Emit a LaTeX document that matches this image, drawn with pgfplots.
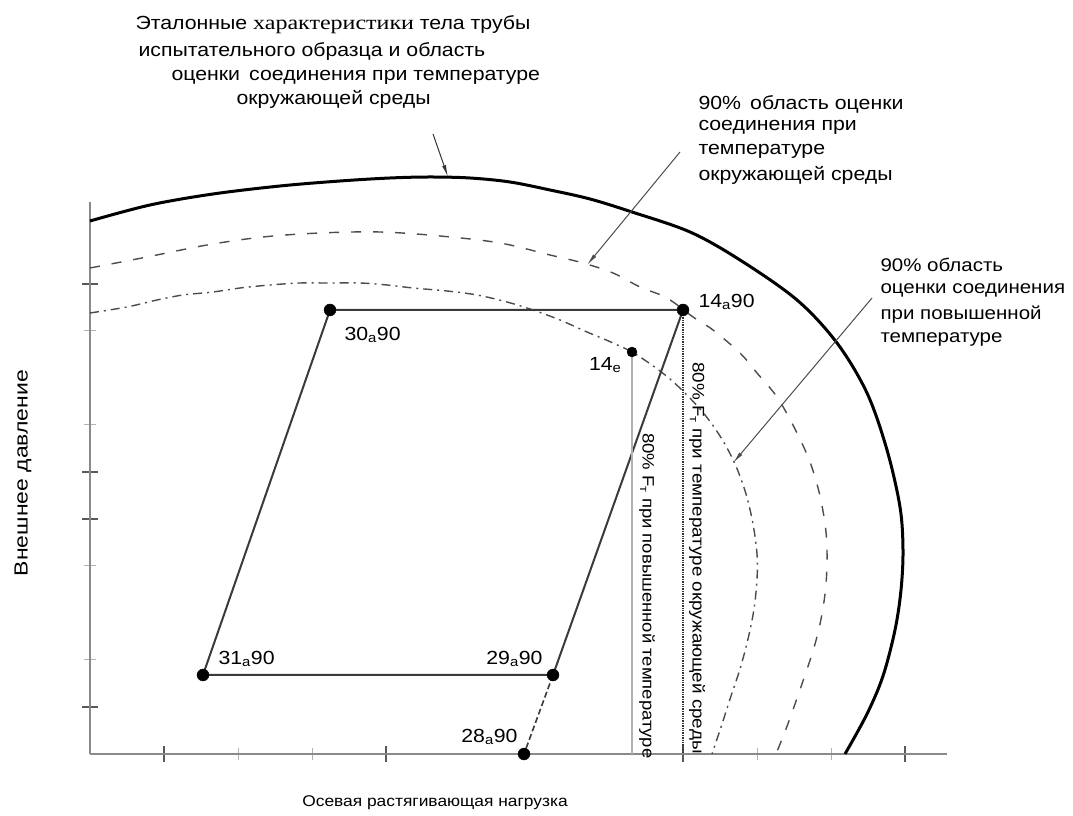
\documentclass[border=0pt]{standalone}
\usepackage{pgfplots}
\pgfplotsset{compat=1.18}
\usepackage{fontspec}
\setmainfont[FakeStretch=1.12]{Liberation Sans}
\newfontfamily\serifw[FakeStretch=1.2]{Liberation Serif}
\usetikzlibrary{arrows.meta}
\definecolor{txt}{HTML}{2A2A2A}
\definecolor{axg}{HTML}{8A8A8A}
\definecolor{ln}{HTML}{3A3A3A}
\begin{document}
\begin{tikzpicture}
\useasboundingbox (0,0) rectangle (1073pt,816pt);
\begin{axis}[
  at={(90pt,62pt)}, anchor=south west,
  scale only axis, width=857pt, height=552pt,
  xmin=0, xmax=857, ymin=0, ymax=552,
  axis lines=left,
  axis line style={-, draw=axg, line width=1.3pt},
  xtick={74,296,593,815}, minor xtick={148,222,667,741},
  ytick={47,235,282,470}, minor ytick={94,188,329,423},
  xticklabels={}, yticklabels={},
  major tick length=16pt, minor tick length=12pt, tick align=center,
  major tick style={draw=black!65, line width=1.3pt},
  minor tick style={draw=black!30, line width=1pt},
  clip=false,
  every node/.style={text=txt},
  font=\fontsize{19}{22}\selectfont,
]
% reference body curve
\addplot[black, line width=3pt, smooth, tension=0.55] coordinates {
 (0,533) (60,549) (123,560) (190,568) (250,573) (300,576) (340,577)
 (380,576) (420,572) (460,564) (500,555) (542,542) (600,522) (650,494)
 (707,454) (747,411) (777,361) (797,304) (810,247) (813,204) (811,164)
 (805,124) (793,78) (777,40) (755,0)};
% 90% ambient
\addplot[black!70, line width=1.4pt, dash pattern=on 10pt off 12pt, smooth, tension=0.55] coordinates {
 (0,486) (57,497) (117,509) (173,517) (230,521) (290,522) (350,518)
 (410,511) (460,499) (493,491) (523,481) (550,467) (577,456) (603,437)
 (623,424) (650,401) (667,381) (687,357) (705,325) (720,292) (730,258)
 (736,222) (737,190) (735,160) (730,130) (723,103) (714,76) (705,50)
 (696,25) (686,0)};
% 90% elevated
\addplot[black!70, line width=1.4pt, dash pattern=on 9pt off 5pt on 2pt off 5pt, smooth, tension=0.55] coordinates {
 (0,441) (37,447) (67,454) (93,459) (123,462) (150,466) (180,469)
 (210,471) (237,471) (270,471) (297,469) (323,466) (357,463) (387,459)
 (417,452) (443,444) (470,434) (497,422) (523,411) (547,399) (580,375)
 (610,345) (630,318) (645,290) (656,260) (663,230) (667,200) (667,175)
 (664,145) (658,115) (650,85) (641,58) (632,30) (622,0)};
% load path
\addplot[ln, line width=2pt] coordinates {(113,79) (240,444) (593,444) (463,79) (113,79)};
\addplot[ln, line width=1.6pt, dash pattern=on 6pt off 3pt] coordinates {(463,79) (434,0)};
\addplot[black!30, line width=1.2pt] coordinates {(542,402) (542,0)};
\addplot[black!80, line width=1.4pt, densely dotted] coordinates {(593,444) (593,0)};
\addplot[only marks, mark=*, mark size=6pt, black] coordinates {
 (240,444) (593,444) (113,79) (463,79) (434,0)};
\addplot[only marks, mark=*, mark size=5pt, black] coordinates {(542,402)};
% point labels
\node[anchor=west] at (axis cs:251,419) {30\textsubscript{а}90};
\node[anchor=west] at (axis cs:605,452) {14\textsubscript{а}90};
\node[anchor=east] at (axis cs:535,389) {14\textsubscript{е}};
\node[anchor=west] at (axis cs:125,95) {31\textsubscript{а}90};
\node[anchor=east] at (axis cs:456,95) {29\textsubscript{а}90};
\node[anchor=east] at (axis cs:431,17) {28\textsubscript{а}90};
% vertical texts
\node[rotate=-90, anchor=west, inner sep=0pt, font=\fontsize{16.8}{20}\selectfont] at (axis cs:607,392) {80\% F\textsubscript{т} при температуре окружающей среды};
\node[rotate=-90, anchor=west, inner sep=0pt, font=\fontsize{16.5}{20}\selectfont] at (axis cs:557,321) {80\% F\textsubscript{т} при повышенной температуре};
% axis labels
\node[rotate=90] at (axis cs:-67,281) {\scalebox{1.08}[1]{Внешнее давление}};
\node[font=\fontsize{15.5}{18}\selectfont] at (axis cs:345,-49) {Осевая растягивающая нагрузка};
% annotations
\node[anchor=west] at (axis cs:42,729) {Эталонные {\serifw\fontsize{20}{22}\selectfont характеристики} тела трубы};
\node[anchor=west] at (axis cs:45,702) {испытательного образца и область};
\node[anchor=west] at (axis cs:78,677) {оценки\, соединения при температуре};
\node[anchor=west] at (axis cs:143,655) {окружающей среды};
\node[anchor=west] at (axis cs:605,650) {90\%\, область оценки};
\node[anchor=west] at (axis cs:605,627) {соединения при};
\node[anchor=west] at (axis cs:605,603) {температуре};
\node[anchor=west] at (axis cs:605,579) {окружающей среды};
\begin{scope}[every node/.append style={font=\fontsize{18.3}{21}\selectfont}]
\node[anchor=west] at (axis cs:787,489) {90\% область};
\node[anchor=west] at (axis cs:787,464) {оценки соединения};
\node[anchor=west] at (axis cs:787,439) {при повышенной};
\node[anchor=west] at (axis cs:787,415) {температуре};
\end{scope}
\draw[black!80, line width=1pt, -{Latex[length=12pt,width=4pt]}] (axis cs:343,620) -- (axis cs:358,577);
\draw[black!70, line width=1pt, -{Latex[length=12pt,width=4pt]}] (axis cs:590,602) -- (axis cs:497,489);
\draw[black!70, line width=1pt, -{Latex[length=12pt,width=4pt]}] (axis cs:782,456) -- (axis cs:643,291);
\end{axis}
\end{tikzpicture}
\end{document}
